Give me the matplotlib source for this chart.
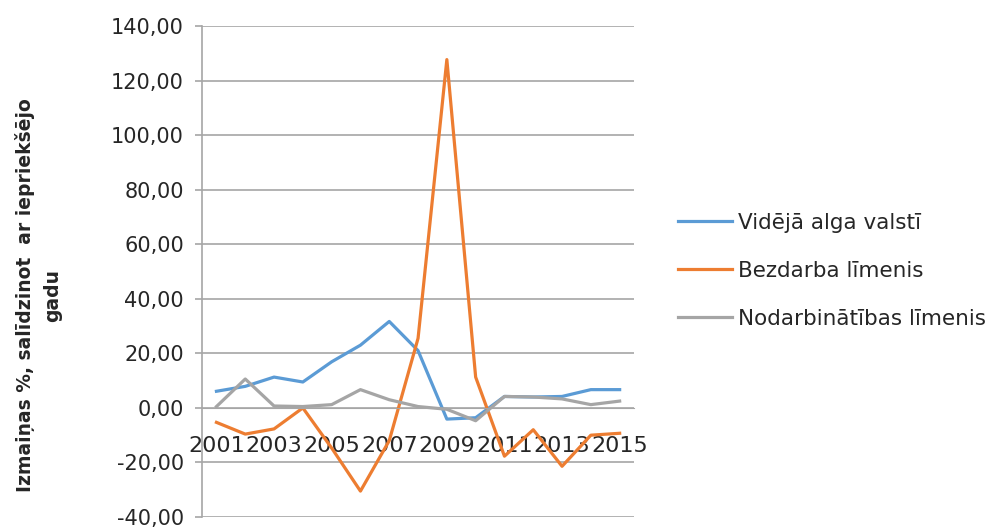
import matplotlib
matplotlib.use("Agg")
import matplotlib.pyplot as plt
from matplotlib.ticker import FuncFormatter, MultipleLocator

years = [str(y) for y in range(2001, 2016)]
alga = [6.1, 7.9, 11.3, 9.5, 16.9, 23.0, 31.7, 21.0, -4.1, -3.6, 4.2, 4.0, 4.2, 6.7, 6.7]
bezdarbs = [-5.3, -9.6, -7.7, 0.0, -14.7, -30.5, -12.0, 25.5, 127.7, 11.3, -17.7, -8.0, -21.4, -10.0, -9.3]
nodarb = [0.5, 10.6, 0.7, 0.5, 1.2, 6.7, 3.0, 0.5, -0.5, -4.7, 4.2, 4.0, 3.3, 1.2, 2.5]

series_names = ["Vidējā alga valstī", "Bezdarba līmenis", "Nodarbinātības līmenis"]
colors = ["#5B9BD5", "#ED7D31", "#A5A5A5"]

plt.rcParams["font.family"] = ["DejaVu Sans"]

fig = plt.figure(figsize=(9.89, 5.28), dpi=100)
ax = fig.add_axes([0.2043, 0.0208, 0.4368, 0.9299])

x = list(range(len(years)))
for vals, name, c in zip([alga, bezdarbs, nodarb], series_names, colors):
    ax.plot(x, vals, color=c, lw=2.3, label=name, solid_joinstyle="round")

ax.set_xlim(-0.5, len(years) - 0.5)
ax.set_ylim(-40, 140)
ax.yaxis.set_major_locator(MultipleLocator(20))
ax.yaxis.set_major_formatter(FuncFormatter(lambda v, p: f"{v:.2f}".replace(".", ",")))
ax.grid(axis="y", color="#A6A6A6", lw=1.2)
ax.set_axisbelow(True)

# category axis crosses at zero
ax.spines["bottom"].set_position(("data", 0))
ax.spines["bottom"].set_color("#A6A6A6")
ax.spines["left"].set_color("#A6A6A6")
ax.spines["left"].set_linewidth(1.2)
ax.spines["top"].set_visible(False)
ax.spines["right"].set_visible(False)

ax.set_xticks(x[::2], labels=years[::2])
ax.tick_params(axis="x", length=0, pad=20, labelsize=16, colors="#262626")
ax.tick_params(axis="y", length=5, width=1.2, color="#A6A6A6", pad=8, labelsize=15,
               labelcolor="#262626")

fig.text(0.039, 0.441, "Izmaiņas %, salīdzinot  ar iepriekšējo\ngadu", rotation=90,
         ha="center", va="center", fontsize=13.5, fontweight="bold", color="#262626",
         multialignment="center", linespacing=1.6)

ax.legend(loc="center left", bbox_to_anchor=(0.6855, 0.487), bbox_transform=fig.transFigure,
          frameon=False, fontsize=15.5, handlelength=2.5, handletextpad=0.28,
          labelspacing=1.3, labelcolor="#262626", borderpad=0, borderaxespad=0)

fig.savefig("out.png", dpi=100)
